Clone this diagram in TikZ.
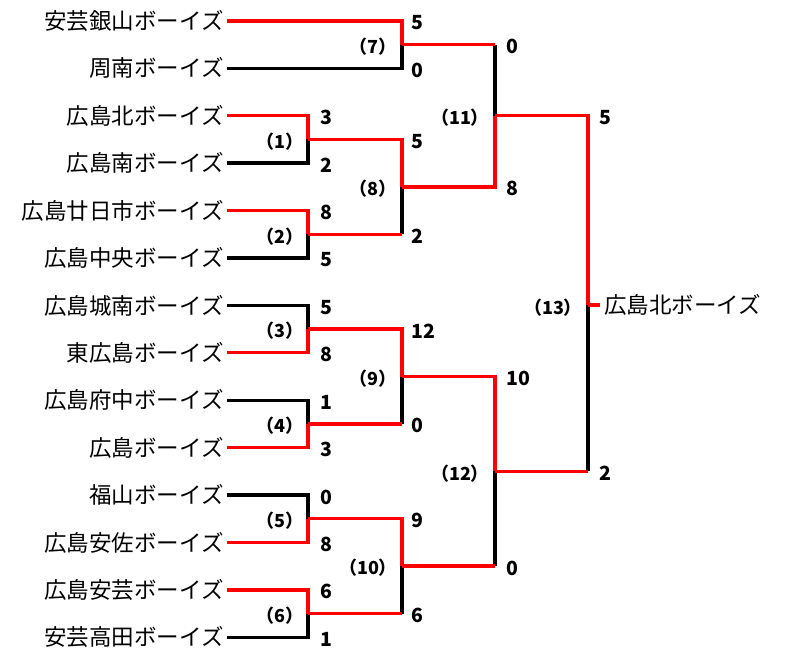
\documentclass[tikz,border=0pt]{standalone}
\usepackage{fontspec}
\setmainfont{Noto Sans CJK JP}
\tikzset{win/.style = {red, line width=3.4pt},
    lose/.style = {black, line width=3.4pt},
    team/.style = {anchor=east, inner sep=3pt, font=\fontsize{22.5}{24}\selectfont},
    score/.style = {anchor=west, inner sep=0pt, font=\bfseries\fontsize{19.5}{20}\selectfont},
    game/.style = {inner sep=0pt, font=\bfseries\fontsize{18}{20}\selectfont}}
\begin{document}
\begin{tikzpicture}[x=1pt, y=-1pt]
        \useasboundingbox (0,0) rectangle (790,660);
        % teams
        \foreach \n/\y/\t in {t1/21/安芸銀山ボーイズ, t2/68.4/周南ボーイズ, t3/115.8/広島北ボーイズ,
            t4/163.2/広島南ボーイズ, t5/210.6/広島廿日市ボーイズ, t6/258/広島中央ボーイズ,
            t7/305.4/広島城南ボーイズ, t8/352.8/東広島ボーイズ, t9/400.2/広島府中ボーイズ,
            t10/447.6/広島ボーイズ, t11/495/福山ボーイズ, t12/542.4/広島安佐ボーイズ,
            t13/589.8/広島安芸ボーイズ, t14/637.2/安芸高田ボーイズ}
            \node[team] (\n) at (227,\y) {\t};
        \node[team, anchor=west, inner sep=4pt] (champ) at (600,305) {広島北ボーイズ};

        % junctions
        \foreach \n/\y in {m1/139.5, m2/234.3, m3/329.1, m4/423.9, m5/518.7, m6/613.5}
            \coordinate (\n) at (308,\y);
        \foreach \n/\y in {m7/44.7, m8/186.9, m9/376.5, m10/566.1}
            \coordinate (\n) at (402,\y);
        \coordinate (m11) at (495,115.8);
        \coordinate (m12) at (495,471.3);
        \coordinate (m13) at (588,305);

        % losers
        \draw[lose] (t4.east) -| (m1);
        \draw[lose] (t6.east) -| (m2);
        \draw[lose] (t7.east) -| (m3);
        \draw[lose] (t9.east) -| (m4);
        \draw[lose] (t11.east) -| (m5);
        \draw[lose] (t14.east) -| (m6);
        \draw[lose] (t2.east) -| (m7);
        \draw[lose] (m2 -| m8) -- (m8);
        \draw[lose] (m4 -| m9) -- (m9);
        \draw[lose] (m6 -| m10) -- (m10);
        \draw[lose] (m7 -| m11) -- (m11);
        \draw[lose] (m10 -| m12) -- (m12);
        \draw[lose] (m12 -| m13) -- (m13);

        % winners
        \draw[win] (t3.east) -| (m1);
        \draw[win] (t5.east) -| (m2);
        \draw[win] (t8.east) -| (m3);
        \draw[win] (t10.east) -| (m4);
        \draw[win] (t12.east) -| (m5);
        \draw[win] (t13.east) -| (m6);
        \draw[win] (t1.east) -| (m7);
        \draw[win] (m1) -| (m8);
        \draw[win] (m2) -- (m2 -| m8);
        \draw[win] (m3) -| (m9);
        \draw[win] (m4) -- (m4 -| m9);
        \draw[win] (m5) -| (m10);
        \draw[win] (m6) -- (m6 -| m10);
        \draw[win] (m8) -| (m11);
        \draw[win] (m7) -- (m7 -| m11);
        \draw[win] (m9) -| (m12);
        \draw[win] (m10) -- (m10 -| m12);
        \draw[win] (m11) -| (m13);
        \draw[win] (m12) -- (m12 -| m13);
        \draw[win] (m13) -- (champ.west);

        % game numbers
        \foreach \n/\x/\y/\g in {g1/280/141.5/1, g2/280/236.3/2, g3/280/331.1/3, g4/280/425.9/4,
            g5/280/520.7/5, g6/280/615.5/6, g7/373/46.7/7, g8/373/188.9/8, g9/373/378.5/9,
            g10/368/568.1/10, g11/460/117.8/11, g12/460/473.3/12, g13/553/308/13}
            \node[game] (\n) at (\x,\y) {（\g）};

        % scores
        \foreach \n/\y/\s in {s3/115.8/3, s4/163.2/2, s5/210.6/8, s6/258/5, s7/305.4/5, s8/352.8/8,
            s9/400.2/1, s10/447.6/3, s11/495/0, s12/542.4/8, s13/589.8/6, s14/637.2/1}
            \node[score] (\n) at (320,\y+2) {\s};
        \foreach \n/\y/\s in {r1/21/5, r2/68.4/0, r3/139.5/5, r4/234.3/2, r5/329.1/12, r6/423.9/0,
            r7/518.7/9, r8/613.5/6}
            \node[score] (\n) at (411,\y+2) {\s};
        \foreach \n/\y/\s in {q1/44.7/0, q2/186.9/8, q3/376.5/10, q4/566.1/0}
            \node[score] (\n) at (506,\y+2) {\s};
        \foreach \n/\y/\s in {f1/115.8/5, f2/471.3/2}
            \node[score] (\n) at (599,\y+2) {\s};
    \end{tikzpicture}
\end{document}
